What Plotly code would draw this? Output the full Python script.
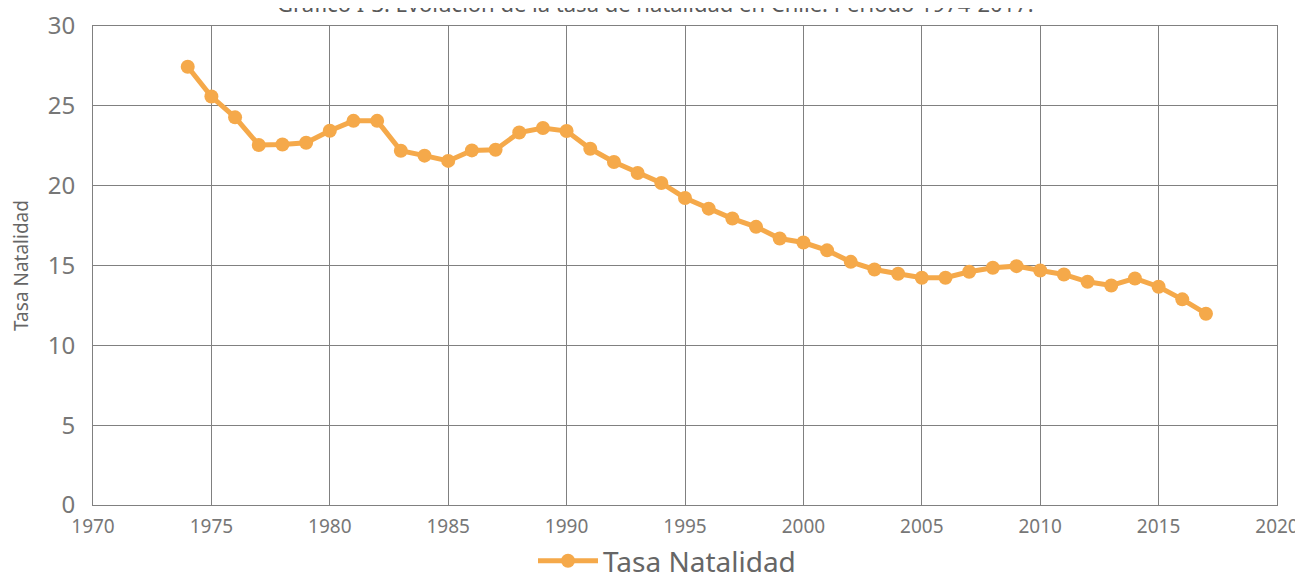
import plotly.graph_objects as go

# Tasa de natalidad en Chile, 1974-2017
years = list(range(1974, 2018))
tasa_natalidad = [
    27.45, 25.58, 24.28, 22.55, 22.58, 22.69, 23.44, 24.06, 24.06, 22.19,
    21.88, 21.55, 22.21, 22.25, 23.33, 23.61, 23.42, 22.31, 21.48, 20.79,
    20.17, 19.23, 18.56, 17.94, 17.42, 16.69, 16.44, 15.95, 15.23, 14.75,
    14.48, 14.23, 14.23, 14.61, 14.86, 14.96, 14.69, 14.44, 13.98, 13.75,
    14.19, 13.67, 12.88, 11.98,
]

title_text = "Gráfico I-3: Evolución de la tasa de natalidad en Chile. Período 1974-2017."
series_name = "Tasa Natalidad"
x_ticks = [1970, 1975, 1980, 1985, 1990, 1995, 2000, 2005, 2010, 2015, 2020]
y_ticks = [0, 5, 10, 15, 20, 25, 30]

orange = "#F5A94A"
grid_color = "#808080"
font_family = "Noto Sans"

# the page body adds an 8px margin, so the figure is a bit smaller than the window
W, H = 1295, 566

fig = go.Figure()
fig.add_trace(go.Scatter(
    x=years,
    y=tasa_natalidad,
    name=series_name,
    mode="lines+markers",
    line=dict(color=orange, width=5),
    marker=dict(color=orange, size=14),
))

# title sits partly above the page edge, like in the original export
fig.add_annotation(
    text=title_text,
    xref="paper", yref="paper",
    x=0.4755, y=1, xanchor="center", yanchor="middle",
    yshift=23,
    showarrow=False,
    font=dict(size=22, color="#595959", family=font_family),
)

fig.update_layout(
    width=W,
    height=H,
    plot_bgcolor="white",
    paper_bgcolor="white",
    margin=dict(l=85, r=26, t=18, b=69, autoexpand=False),
    font=dict(family=font_family, color="#666666"),
    showlegend=True,
    legend=dict(
        orientation="h",
        x=659 / W, xref="container", xanchor="center",
        y=13 / H, yref="container", yanchor="middle",
        itemwidth=60,
        font=dict(size=28, color="#666666"),
    ),
    xaxis=dict(
        range=[1970, 2020],
        tickvals=x_ticks,
        tickfont=dict(size=19, color="#777777"),
        ticklabelstandoff=4,
        showgrid=True,
        gridcolor=grid_color,
        gridwidth=1,
        showline=True,
        linecolor=grid_color,
        mirror=True,
        zeroline=False,
        ticks="",
        automargin=False,
    ),
    yaxis=dict(
        range=[0, 30],
        tickvals=y_ticks,
        tickfont=dict(size=24, color="#777777"),
        ticklabelstandoff=12,
        showgrid=True,
        gridcolor=grid_color,
        gridwidth=1,
        showline=True,
        linecolor=grid_color,
        mirror=True,
        zeroline=False,
        ticks="",
        automargin=False,
        title=dict(text=series_name, font=dict(size=19, color="#666666"),
                   standoff=16),
    ),
)

fig.write_html("out.html")
